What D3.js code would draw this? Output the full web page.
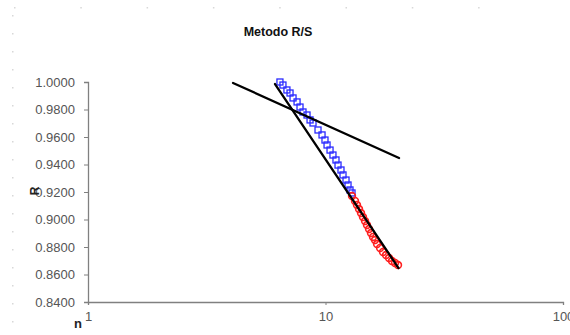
<!DOCTYPE html>
<html>
<head>
<meta charset="utf-8">
<script src="https://cdn.jsdelivr.net/npm/d3@7"></script>
<style>
  html, body { margin: 0; padding: 0; background: #fff; }
  svg { display: block; }
  text { font-family: "Liberation Sans", Arial, sans-serif; }
</style>
</head>
<body>
<svg id="chart" width="570" height="335"></svg>
<script>
// R/S analysis: n (log axis) vs R
const xTicks = [1, 10, 100];
const yTicks = [0.84, 0.86, 0.88, 0.90, 0.92, 0.94, 0.96, 0.98, 1.00];

// first segment (squares)
const blueN = [6.43, 6.62, 6.88, 7.09, 7.30, 7.59, 7.81, 8.04, 8.36, 8.61, 8.86, 9.30, 9.67, 9.95,
               10.15, 10.45, 10.75, 11.07, 11.29, 11.62, 11.85, 12.20, 12.44, 12.68, 12.93];
const blueR = [1.0000, 0.9978, 0.9942, 0.9920, 0.9884, 0.9855, 0.9818, 0.9782, 0.9760, 0.9724, 0.9702, 0.9651, 0.9615, 0.9578,
               0.9542, 0.9505, 0.9469, 0.9433, 0.9396, 0.9360, 0.9324, 0.9287, 0.9251, 0.9215, 0.9193];

// second segment (circles)
const redN = [12.93, 13.31, 13.57, 13.84, 14.11, 14.38, 14.67, 14.95, 15.25, 15.54,
              15.85, 16.16, 16.48, 16.97, 17.46, 17.98, 18.51, 19.05, 19.62, 20.20];
const redR = [0.9171, 0.9135, 0.9105, 0.9076, 0.9047, 0.9018, 0.8989, 0.8960, 0.8931, 0.8902,
              0.8873, 0.8851, 0.8822, 0.8793, 0.8764, 0.8742, 0.8720, 0.8698, 0.8684, 0.8669];

// fitted lines: [n, R] end points
const fitShallow = [[4.08, 0.9993], [20.4, 0.9447]];
const fitSteep = [[6.13, 0.9985], [20.3, 0.8647]];

const svg = d3.select("#chart");

// faint chart-area grid dots
const dotCols = d3.range(14, 480, 66.3);
const dotRows = d3.range(15, 330, 18);
svg.append("g").selectAll("rect.dc").data(dotCols).join("rect")
  .attr("x", d => d).attr("y", 7).attr("width", 1.5).attr("height", 1.5).attr("fill", "#d8d8d8");
svg.append("g").selectAll("rect.dr").data(dotRows).join("rect")
  .attr("x", 12).attr("y", d => d).attr("width", 1.5).attr("height", 1.5).attr("fill", "#d8d8d8");

const x = d3.scaleLog().domain([1, 100]).range([88, 563]);
const y = d3.scaleLinear().domain([0.84, 1.0]).range([302, 82]);

// title
svg.append("text")
  .attr("x", 278).attr("y", 36)
  .attr("text-anchor", "middle")
  .attr("font-size", 12.5).attr("font-weight", "bold").attr("fill", "#111")
  .text("Metodo R/S");

// axes
const yAxis = d3.axisLeft(y).tickValues(yTicks).tickFormat(d3.format(".4f")).tickSize(4).tickPadding(9);
const xAxis = d3.axisBottom(x).tickValues(xTicks).tickFormat(d3.format("d")).tickSize(3).tickPadding(7);

const gy = svg.append("g").attr("transform", "translate(88,0)").call(yAxis);
const gx = svg.append("g").attr("transform", "translate(0,302)").call(xAxis);
[gy, gx].forEach(g => {
  g.select(".domain").attr("stroke", "#808080").attr("stroke-width", 1.3);
  g.selectAll(".tick line").attr("stroke", "#808080");
  g.selectAll(".tick text").attr("font-size", 13).attr("fill", "#555")
    .attr("font-family", "'Liberation Sans', Arial, sans-serif");
});

// axis titles
svg.append("text")
  .attr("x", 78).attr("y", 328).attr("text-anchor", "middle")
  .attr("font-size", 13).attr("font-weight", "bold").attr("fill", "#222")
  .text("n");
svg.append("text")
  .attr("transform", "translate(39,191) rotate(-90)")
  .attr("text-anchor", "middle")
  .attr("font-size", 12).attr("font-weight", "bold").attr("fill", "#222")
  .text("R");

// markers
const blue = blueN.map((n, i) => [n, blueR[i]]);
const red = redN.map((n, i) => [n, redR[i]]);
const sq = 6;
svg.append("g").selectAll("rect").data(blue).join("rect")
  .attr("x", d => x(d[0]) - sq / 2).attr("y", d => y(d[1]) - sq / 2)
  .attr("width", sq).attr("height", sq)
  .attr("fill", "none").attr("stroke", "#2a2aff").attr("stroke-width", 1.3);
svg.append("g").selectAll("circle").data(red).join("circle")
  .attr("cx", d => x(d[0])).attr("cy", d => y(d[1])).attr("r", 3.4)
  .attr("fill", "none").attr("stroke", "#ff2020").attr("stroke-width", 1.6);

// fitted lines
const line = d3.line().x(d => x(d[0])).y(d => y(d[1]));
[fitShallow, fitSteep].forEach(seg => {
  svg.append("path").attr("d", line(seg))
    .attr("fill", "none").attr("stroke", "#000").attr("stroke-width", 2.3).attr("stroke-linecap", "round");
});
</script>
</body>
</html>
